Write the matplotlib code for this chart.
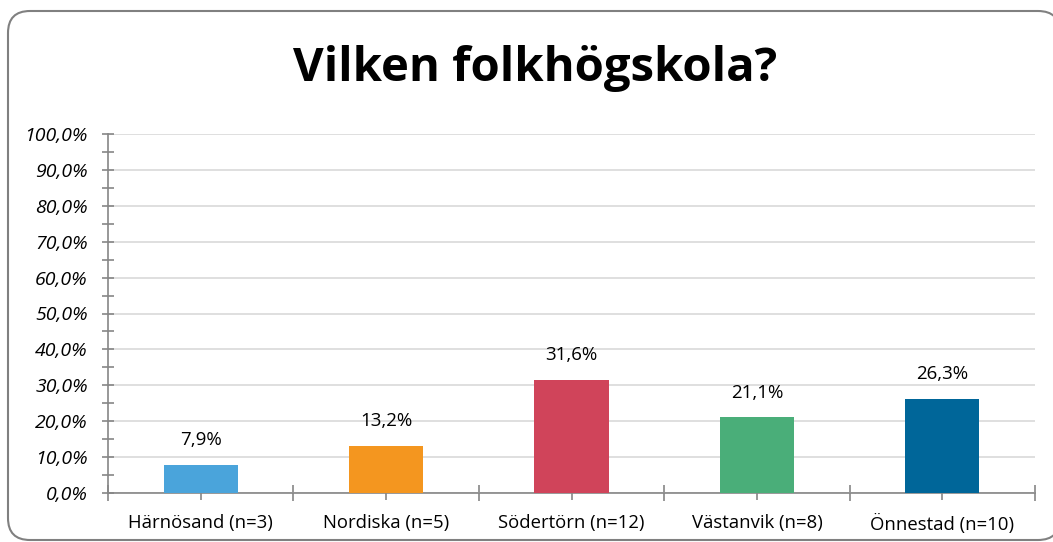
import matplotlib.pyplot as plt
from matplotlib.patches import FancyBboxPatch
from matplotlib.ticker import MultipleLocator, FixedLocator, NullFormatter

title = "Vilken folkhögskola?"
categories = ["Härnösand (n=3)", "Nordiska (n=5)", "Södertörn (n=12)", "Västanvik (n=8)", "Önnestad (n=10)"]
values = [7.9, 13.2, 31.6, 21.1, 26.3]
colors = ["#4aa4db", "#f4961f", "#d0445a", "#4aae79", "#006699"]

plt.rcParams['font.family'] = ['Open Sans', 'DejaVu Sans']

W, H = 1053, 542
fig = plt.figure(figsize=(W / 100, H / 100), dpi=100)

# rounded frame around the whole chart
bg = fig.add_axes([0, 0, 1, 1])
bg.set_xlim(0, W)
bg.set_ylim(0, H)
bg.axis("off")
bg.add_patch(FancyBboxPatch((8, 2), 1052, 529,
                            boxstyle="round,pad=0,rounding_size=22",
                            facecolor="white", edgecolor="#808080", linewidth=1.5))

left, right, top, bottom = 108, 1035, 134, 493
ax = fig.add_axes([left / W, (H - bottom) / H, (right - left) / W, (bottom - top) / H])
ax.set_facecolor("none")

x = list(range(len(categories)))
ax.bar(x, values, width=0.4, color=colors, zorder=3)

for xi, v in zip(x, values):
    ax.annotate(f"{v:.1f}%".replace(".", ","), (xi, v), xytext=(0, 17.5),
                textcoords="offset points", ha="center", va="center", fontsize=13.5)

ax.set_xlim(-0.5, len(categories) - 0.5)
ax.set_ylim(0, 100)

ax.yaxis.set_minor_locator(MultipleLocator(5))
ax.set_yticks(range(0, 101, 10))
ax.set_yticklabels([f"{t:.1f}%".replace(".", ",") for t in range(0, 101, 10)],
                   fontsize=14, style="italic")

ax.xaxis.set_major_locator(FixedLocator([i - 0.5 for i in range(len(categories) + 1)]))
ax.xaxis.set_major_formatter(NullFormatter())
ax.xaxis.set_minor_locator(FixedLocator(x))
ax.set_xticklabels(categories, minor=True, fontsize=13.3)

ax.tick_params(axis="y", which="both", direction="inout", length=9, width=1.2,
               color="#868686", pad=10)
ax.tick_params(axis="x", which="major", direction="inout", length=12, width=1.2,
               color="#868686")
ax.tick_params(axis="x", which="minor", direction="out", length=5, width=1.2,
               color="#868686", pad=10)

ax.grid(axis="y", which="major", color="#d9d9d9", linewidth=1.2, zorder=0)
for s in ["top", "right"]:
    ax.spines[s].set_visible(False)
for s in ["left", "bottom"]:
    ax.spines[s].set_color("#868686")
    ax.spines[s].set_linewidth(1.2)

fig.text(535 / W, 1 - 68 / H, title, ha="center", va="center",
         fontsize=34, fontweight="bold")

fig.savefig("out.png", dpi=100)
